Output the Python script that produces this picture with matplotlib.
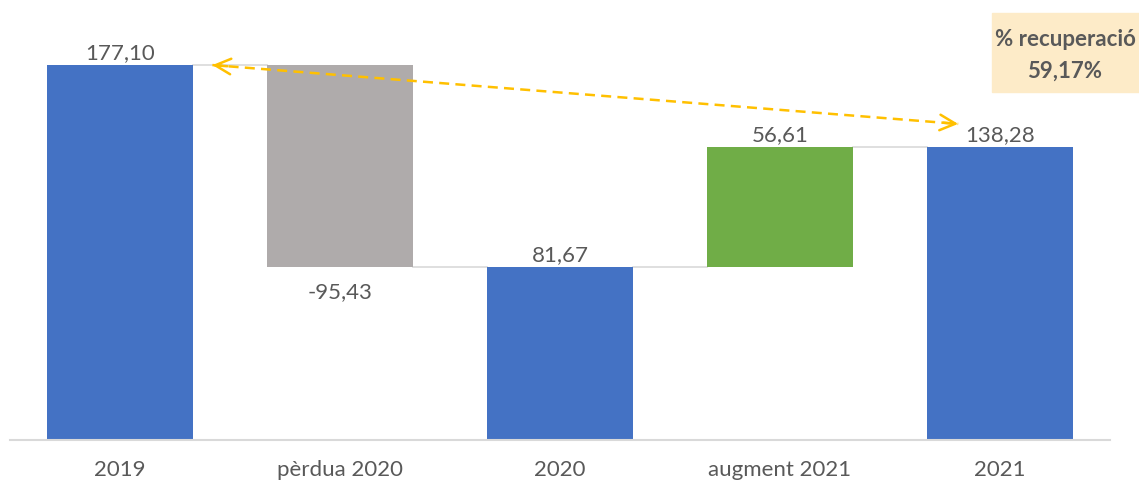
import matplotlib.pyplot as plt

plt.rcParams['font.family'] = ['Lato', 'DejaVu Sans']

# Dades del gràfic de cascada
categories = ["2019", "pèrdua 2020", "2020", "augment 2021", "2021"]
values = [177.10, -95.43, 81.67, 56.61, 138.28]
is_total = [True, False, True, False, True]
labels = ["177,10", "-95,43", "81,67", "56,61", "138,28"]
recuperacio = "59,17%"

blue = "#4472C4"
grey = "#AFABAB"
green = "#70AD47"
text_col = "#595959"
orange = "#FFC000"

# bases i alçades de cada barra
bottoms = []
heights = []
colors = []
running = 0
for v, tot in zip(values, is_total):
    if tot:
        bottoms.append(0)
        heights.append(v)
        colors.append(blue)
        running = v
    else:
        if v < 0:
            bottoms.append(running + v)
            heights.append(-v)
            colors.append(grey)
        else:
            bottoms.append(running)
            heights.append(v)
            colors.append(green)
        running = running + v

fig = plt.figure(figsize=(11.39, 4.85), dpi=100)
ax = fig.add_axes([10 / 1139, 44 / 485, 1100 / 1139, 441 / 485])

x = list(range(len(categories)))
width = 0.664
ax.bar(x, heights, bottom=bottoms, width=width, color=colors, zorder=2)

# línies connectores
level = 0
levels = []
for v, tot in zip(values, is_total):
    level = v if tot else level + v
    levels.append(level)
for i in range(len(x) - 1):
    ax.plot([x[i] + width / 2, x[i + 1] - width / 2], [levels[i], levels[i]],
            color="#D9D9D9", lw=1.2, zorder=1)

# etiquetes
for i, lab in enumerate(labels):
    if values[i] < 0:
        ax.text(x[i], bottoms[i] - 6.5, lab, ha="center", va="top",
                fontsize=16, color=text_col)
    else:
        ax.text(x[i], bottoms[i] + heights[i] + 1.5, lab, ha="center", va="bottom",
                fontsize=16, color=text_col)

# fletxa de recuperació
p_left = (0.42, values[0])
p_right = (3.81, 149.3)
ax.plot([p_left[0], p_right[0]], [p_left[1], p_right[1]], color=orange,
        lw=1.8, ls=(0, (4, 2.5)), zorder=3)
dx = p_right[0] - p_left[0]
dy = p_right[1] - p_left[1]
for tip, back in [(p_left, (p_left[0] + dx * 0.02, p_left[1] + dy * 0.02)),
                  (p_right, (p_right[0] - dx * 0.02, p_right[1] - dy * 0.02))]:
    ax.annotate("", xy=tip, xytext=back,
                arrowprops=dict(arrowstyle="->", color=orange, lw=1.8,
                                mutation_scale=28, shrinkA=0, shrinkB=0))

# caixa del percentatge
fig.patches.append(plt.Rectangle((992 / 1139, 1 - 93 / 485), 147 / 1139, 79 / 485,
                                 transform=fig.transFigure, color="#FDEBC8",
                                 zorder=0))
fig.text(1065 / 1139, 1 - 40 / 485, "% recuperació", ha="center", va="center",
         fontsize=16, fontweight="bold", color=text_col)
fig.text(1065 / 1139, 1 - 71 / 485, recuperacio, ha="center", va="center",
         fontsize=16, fontweight="bold", color=text_col)

ax.set_xlim(-0.5, 4.5)
ax.set_ylim(0, 208.3)
ax.set_xticks(x)
ax.set_xticklabels(categories, fontsize=16, color=text_col)
ax.set_yticks([])
for s in ["top", "right", "left"]:
    ax.spines[s].set_visible(False)
ax.spines["bottom"].set_color("#D9D9D9")
ax.spines["bottom"].set_linewidth(1.5)
ax.tick_params(axis="x", length=0, pad=14)
ax.patch.set_alpha(0)

plt.savefig("out.png", dpi=100)
